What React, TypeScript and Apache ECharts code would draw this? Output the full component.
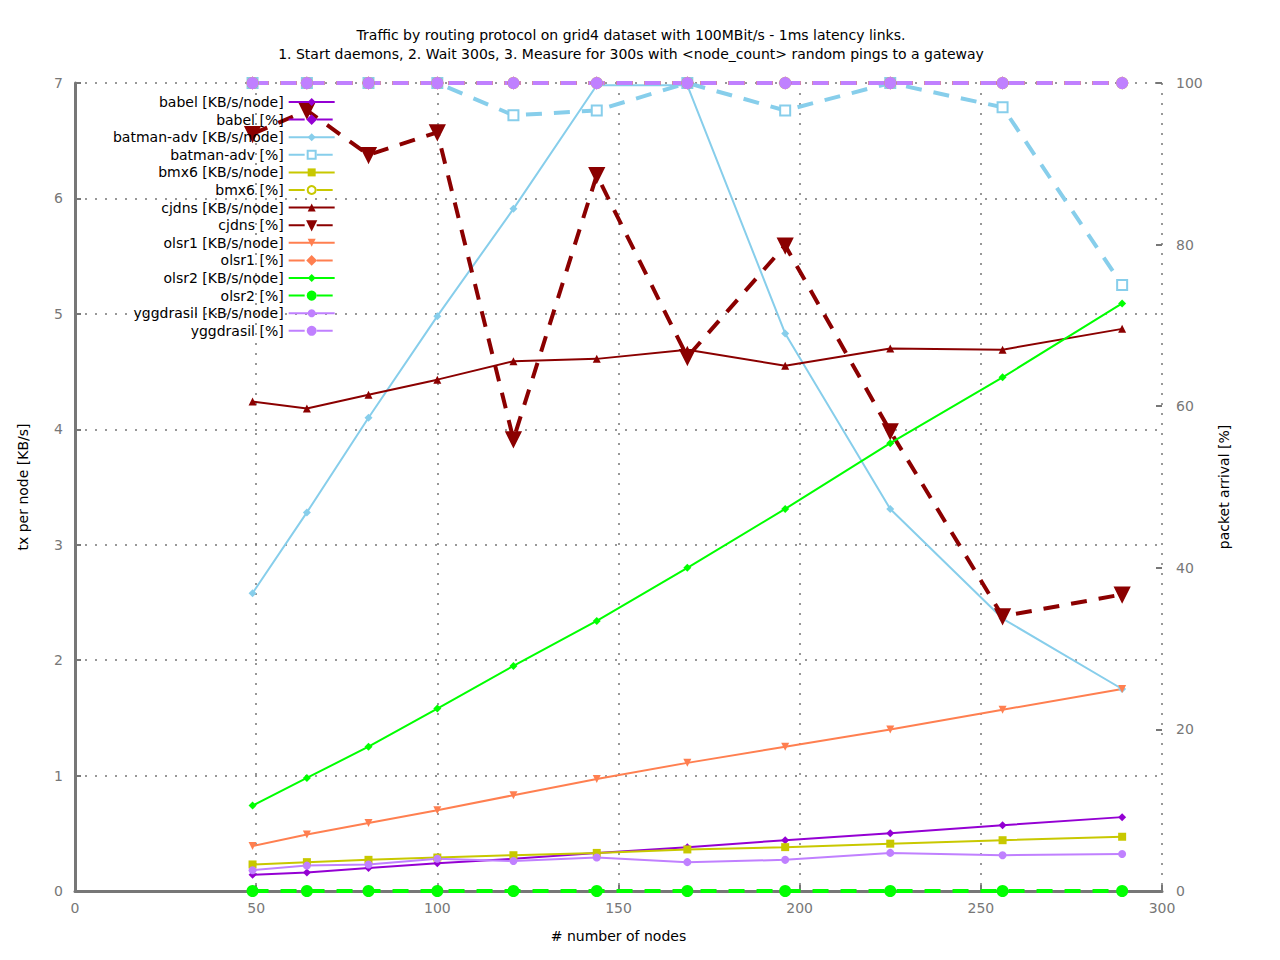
import * as echarts from "echarts";
import { useEffect, useRef } from "react";

const nodes = [49, 64, 81, 100, 121, 144, 169, 196, 225, 256, 289];

const babelKB = [0.14, 0.16, 0.2, 0.24, 0.28, 0.33, 0.38, 0.44, 0.5, 0.57, 0.64];
const babelPct = [100, 100, 100, 100, 100, 100, 100, 100, 100, 100, 100];
const batmanKB = [2.58, 3.28, 4.1, 4.98, 5.91, 6.98, 6.98, 4.83, 3.31, 2.36, 1.75];
const batmanPct = [100, 100, 100, 100, 96, 96.6, 100, 96.6, 100, 97, 75];
const bmx6KB = [0.23, 0.25, 0.27, 0.29, 0.31, 0.33, 0.36, 0.38, 0.41, 0.44, 0.47];
const bmx6Pct = [100, 100, 100, 100, 100, 100, 100, 100, 100, 100, 100];
const cjdnsKB = [4.24, 4.18, 4.3, 4.43, 4.59, 4.61, 4.69, 4.55, 4.7, 4.69, 4.87];
const cjdnsPct = [93.7, 96.6, 91.1, 93.9, 55.9, 88.6, 66.1, 79.9, 56.9, 34.0, 36.7];
const olsr1KB = [0.39, 0.49, 0.59, 0.7, 0.83, 0.97, 1.11, 1.25, 1.4, 1.57, 1.75];
const olsr1Pct = [100, 100, 100, 100, 100, 100, 100, 100, 100, 100, 100];
const olsr2KB = [0.74, 0.98, 1.25, 1.58, 1.95, 2.34, 2.8, 3.31, 3.88, 4.45, 5.09];
const olsr2Pct = [0, 0, 0, 0, 0, 0, 0, 0, 0, 0, 0];
const yggKB = [0.18, 0.22, 0.23, 0.28, 0.26, 0.29, 0.25, 0.27, 0.33, 0.31, 0.32];
const yggPct = [100, 100, 100, 100, 100, 100, 100, 100, 100, 100, 100];

const protocols = [
  { name: "babel", color: "#9400d3", kb: babelKB, pct: babelPct, s1: "diamond", s2: "diamond", r1: 0 },
  { name: "batman-adv", color: "#87ceeb", kb: batmanKB, pct: batmanPct, s1: "diamond", s2: "emptyRect", r1: 0 },
  { name: "bmx6", color: "#c8c800", kb: bmx6KB, pct: bmx6Pct, s1: "rect", s2: "emptyCircle", r1: 0 },
  { name: "cjdns", color: "#8b0000", kb: cjdnsKB, pct: cjdnsPct, s1: "triangle", s2: "triangle", r1: 0, r2: 180 },
  { name: "olsr1", color: "#ff7f50", kb: olsr1KB, pct: olsr1Pct, s1: "triangle", s2: "diamond", r1: 180 },
  { name: "olsr2", color: "#00ff00", kb: olsr2KB, pct: olsr2Pct, s1: "diamond", s2: "circle", r1: 0 },
  { name: "yggdrasil", color: "#c080ff", kb: yggKB, pct: yggPct, s1: "circle", s2: "circle", r1: 0 },
];

const font = "DejaVu Sans";

export default function App() {
  const ref = useRef<HTMLDivElement>(null);
  useEffect(() => {
    if (!ref.current) return;
    const chart = echarts.init(ref.current, null, { renderer: "svg" });
    const series: any[] = [];
    const legendData: string[] = [];
    protocols.forEach((p: any) => {
      const n1 = `${p.name} [KB/s/node]`;
      const n2 = `${p.name} [%]`;
      legendData.push(n1, n2);
      series.push({
        name: n1,
        type: "line",
        yAxisIndex: 0,
        data: nodes.map((x, i) => [x, p.kb[i]]),
        symbol: p.s1,
        symbolSize: 8,
        symbolRotate: p.r1,
        lineStyle: { color: p.color, width: 2 },
        itemStyle: { color: p.color },
      });
      series.push({
        name: n2,
        type: "line",
        yAxisIndex: 1,
        data: nodes.map((x, i) => [x, p.pct[i]]),
        symbol: p.s2,
        symbolSize: p.name === "cjdns" ? 14 : 10,
        symbolRotate: p.r2 || 0,
        lineStyle: { color: p.color, width: 4, type: [16, 12] },
        itemStyle: { color: p.color, borderColor: p.color, borderWidth: 2 },
      });
    });
    chart.setOption({
      animation: false,
      textStyle: { fontFamily: font },
      title: {
        text: "Traffic by routing protocol on grid4 dataset with 100MBit/s - 1ms latency links.\n1. Start daemons, 2. Wait 300s, 3. Measure for 300s with <node_count> random pings to a gateway",
        left: 618,
        textAlign: "center",
        top: 12,
        textStyle: { fontSize: 14, fontWeight: "normal", color: "#000", lineHeight: 19, fontFamily: font },
      },
      legend: {
        orient: "vertical",
        left: 100,
        top: 82,
        align: "right",
        itemGap: 3.6,
        itemWidth: 46,
        itemHeight: 10,
        data: legendData,
        textStyle: { fontSize: 14, color: "#000", fontFamily: font },
      },
      grid: { left: 66, right: 110, top: 75, bottom: 61 },
      xAxis: {
        type: "value",
        min: 0,
        max: 300,
        interval: 50,
        name: "# number of nodes",
        nameLocation: "middle",
        nameGap: 38,
        nameTextStyle: { fontSize: 14, color: "#000" },
        axisLine: { lineStyle: { color: "#777", width: 3 } },
        axisTick: { inside: true, length: 6, lineStyle: { color: "#777", width: 2 } },
        axisLabel: { fontSize: 14, color: "#777", margin: 10 },
        splitLine: { show: true, lineStyle: { color: "#777", type: [2, 8], width: 1.5 } },
      },
      yAxis: [
        {
          type: "value",
          min: 0,
          max: 7,
          interval: 1,
          name: "tx per node [KB/s]",
          nameLocation: "middle",
          nameGap: 45,
          nameTextStyle: { fontSize: 14, color: "#000" },
          axisLine: { show: true, lineStyle: { color: "#777", width: 3 } },
          axisTick: { show: true, inside: true, length: 6, lineStyle: { color: "#777", width: 2 } },
          axisLabel: { fontSize: 14, color: "#777", margin: 12 },
          splitLine: { show: true, lineStyle: { color: "#777", type: [2, 8], width: 1.5 } },
        },
        {
          type: "value",
          min: 0,
          max: 100,
          interval: 20,
          name: "packet arrival [%]",
          nameLocation: "middle",
          nameGap: 55,
          nameRotate: 90,
          nameTextStyle: { fontSize: 14, color: "#000" },
          axisLine: { show: false },
          axisTick: { show: true, inside: true, length: 6, lineStyle: { color: "#777", width: 2 } },
          axisLabel: { fontSize: 14, color: "#777", margin: 14 },
          splitLine: { show: false },
        },
      ],
      series,
    });
    return () => chart.dispose();
  }, []);
  return <div ref={ref} style={{ width: 1264, height: 944 }} />;
}
